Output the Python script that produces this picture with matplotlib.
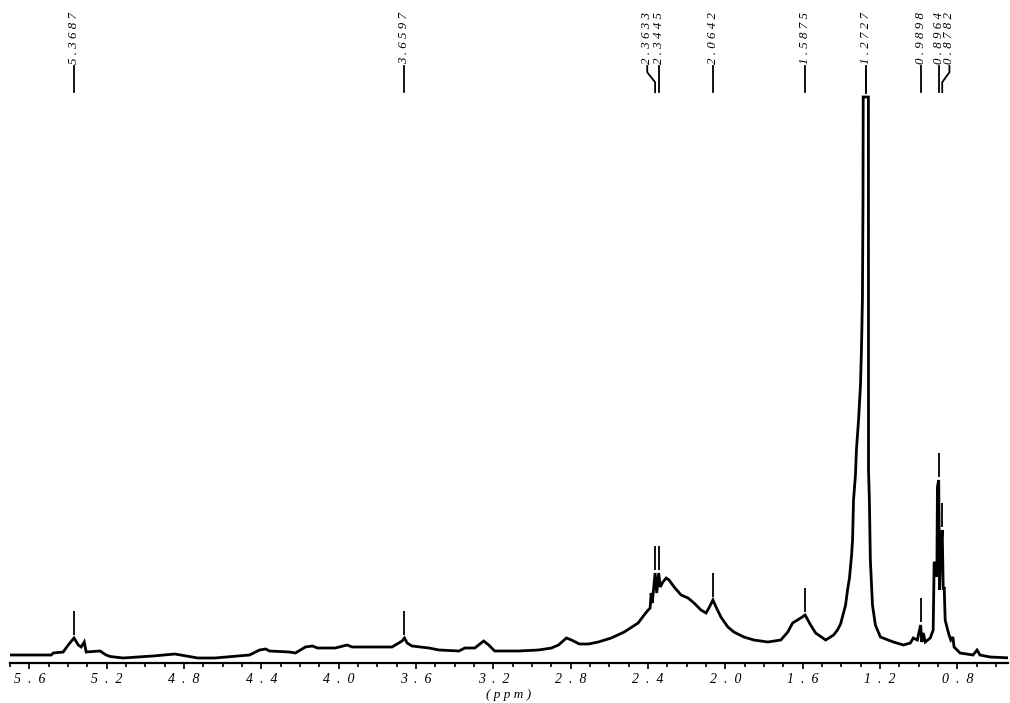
import numpy as np
import matplotlib
matplotlib.use("Agg")
from matplotlib import pyplot as plt

# 1H NMR trace: chemical shift (ppm) and intensity (a.u.)
spec_ppm = [5.700, 5.487, 5.476, 5.425, 5.399, 5.3687, 5.347, 5.332, 5.316, 5.306,
            5.234, 5.203, 5.182, 5.115, 4.961, 4.847, 4.729, 4.641, 4.548, 4.461,
            4.409, 4.378, 4.358, 4.255, 4.224, 4.172, 4.136, 4.110, 4.018, 3.956,
            3.930, 3.724, 3.698, 3.672, 3.6597, 3.646, 3.621, 3.533, 3.481, 3.378,
            3.347, 3.296, 3.270, 3.250, 3.224, 3.193, 3.069, 2.966, 2.899, 2.863,
            2.822, 2.796, 2.755, 2.708, 2.657, 2.590, 2.523, 2.451, 2.420, 2.399,
            2.389, 2.384, 2.378, 2.3633, 2.355, 2.3445, 2.337, 2.323, 2.306, 2.291,
            2.265, 2.229, 2.193, 2.162, 2.126, 2.100, 2.085, 2.0642, 2.048, 2.023,
            1.987, 1.956, 1.904, 1.853, 1.780, 1.713, 1.677, 1.652, 1.610, 1.5875,
            1.559, 1.533, 1.481, 1.440, 1.420, 1.404, 1.389, 1.378, 1.368, 1.358,
            1.347, 1.342, 1.337, 1.327, 1.322, 1.311, 1.301, 1.296, 1.291, 1.288,
            1.287, 1.2727, 1.2600, 1.2595, 1.255, 1.250, 1.239, 1.224, 1.198, 1.131,
            1.079, 1.043, 1.028, 1.007, 0.9898, 0.984, 0.976, 0.966, 0.940, 0.925,
            0.920, 0.911, 0.906, 0.903, 0.8964, 0.892, 0.887, 0.8782, 0.873, 0.868,
            0.863, 0.846, 0.834, 0.823, 0.817, 0.786, 0.719, 0.698, 0.683, 0.631,
            0.520]
spec_int = [0, 0, 2, 3, 10, 17, 10, 8, 13, 3,
            4, 0, -1.5, -3, -1, 1, -3, -3, -1.5, 0,
            5, 6, 4, 3, 2, 8, 9, 7, 7, 10,
            8, 8, 11, 14, 17, 12, 9, 7, 5, 4,
            7, 7, 11, 14, 10, 4, 4, 5, 7, 10,
            17, 15, 11, 11, 13, 17, 23, 32, 40, 45,
            47, 62, 52, 82, 62, 82, 68, 73, 77, 75,
            68, 60, 57, 52, 45, 42, 47, 55, 48, 38,
            28, 23, 18, 15, 13, 15, 23, 32, 37, 40,
            30, 22, 15, 20, 25, 31, 42, 50, 65, 77,
            100, 115, 155, 180, 205, 235, 270, 305, 355, 455,
            558, 558, 558, 185, 155, 95, 50, 30, 18, 13,
            10, 12, 17, 15, 30, 13, 22, 13, 17, 25,
            92, 92, 78, 168, 175, 65, 102, 125, 65, 68,
            35, 22, 15, 18, 8, 2, 0, 5, 0, -2,
            -3]

# picked peaks
peak_ppm = [5.3687, 3.6597, 2.3633, 2.3445, 2.0642, 1.5875, 1.2727, 0.9898, 0.8964, 0.8782]
peak_txt = ["5.3687", "3.6597", "2.3633", "2.3445", "2.0642", "1.5875", "1.2727",
            "0.9898", "0.8964", "0.8782"]
# where the rotated labels sit (moved apart where peaks crowd)
label_ppm = [5.3687, 3.6597, 2.404, 2.3445, 2.0642, 1.5875, 1.2727, 0.9898, 0.8964, 0.841]

spaced = lambda s, sep=" ": sep.join(list(s))

fig = plt.figure(figsize=(10.10, 7.03), dpi=100)
ax = fig.add_axes([10 / 1010, 40 / 703, 998 / 1010, 663 / 703])
ax.set_xlim(5.682, 0.538)
ax.set_ylim(-8, 655)

ppm = np.array(spec_ppm)
inten = np.array(spec_int)
ax.plot(ppm, inten, color="black", lw=2.0, solid_joinstyle="miter")

# peak-pick markers just above each picked peak
for p in peak_ppm:
    near = np.abs(ppm - p) < 0.004
    h = inten[near].max()
    ax.vlines(p, h + 3, h + 27, color="black", lw=1.3)

# label leaders and rotated labels along the top
trans = ax.get_xaxis_transform()
for p, lp, t in zip(peak_ppm, label_ppm, peak_txt):
    ax.plot([lp, lp, p, p], [0.9005, 0.891, 0.876, 0.861], color="black",
            lw=1.3, transform=trans, clip_on=False)
    ax.text(lp, 0.903, spaced(t), rotation=90, ha="center", va="bottom",
            transform=trans, fontsize=9.3, family="Liberation Serif",
            style="italic")

for side in ["top", "left", "right"]:
    ax.spines[side].set_visible(False)
ax.spines["bottom"].set_position(("data", -8))
ax.spines["bottom"].set_linewidth(1.6)
ax.set_yticks([])

major = np.arange(0.8, 5.61, 0.4)
ax.set_xticks(major)
ax.set_xticklabels([spaced(f"{v:.1f}", "  ") for v in major],
                   family="Liberation Serif", style="italic", fontsize=10)
ax.set_xticks(np.arange(0.6, 5.71, 0.1), minor=True)
ax.tick_params(axis="x", which="major", direction="out", length=4, width=1.2, pad=3.5)
ax.tick_params(axis="x", which="minor", direction="out", length=3, width=1.2)

ax.set_xlabel(spaced("(ppm)"), family="Liberation Serif", style="italic",
              fontsize=9.5, labelpad=2)

fig.savefig("out.png", dpi=100)
